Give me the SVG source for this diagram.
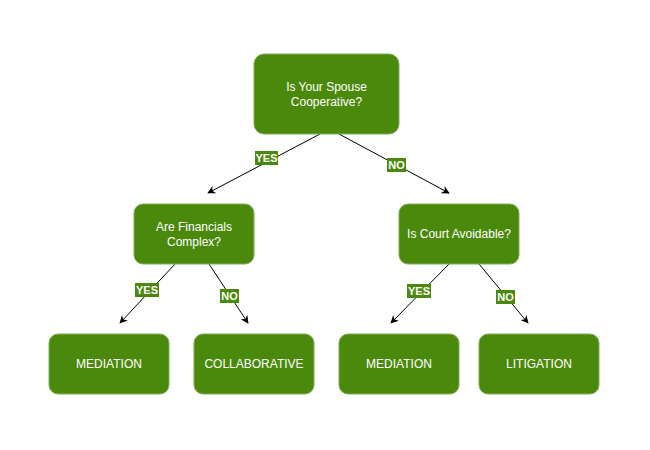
<svg xmlns="http://www.w3.org/2000/svg" width="650" height="450" viewBox="0 0 650 450">
  <style>
    .node rect { fill: #4a890c; stroke: #7fae55; stroke-width: 1; }
    .node text { fill: #ffffff; font-family: "Liberation Sans", Arial, sans-serif; font-size: 12px; text-anchor: middle; }
    .edge line { stroke: #000000; stroke-width: 1; }
    .lbl rect { fill: #4a890c; }
    .lbl text { fill: #ffffff; font-family: "Liberation Sans", Arial, sans-serif; font-size: 11px; font-weight: bold; text-anchor: middle; }
  </style>
  <defs>
    <marker id="arrow" viewBox="0 0 10 10" refX="9" refY="5" markerWidth="8" markerHeight="8" markerUnits="userSpaceOnUse" orient="auto">
      <path d="M0,0 L10,5 L0,10 L3,5 Z" fill="#000000"/>
    </marker>
  </defs>
  <rect width="650" height="450" fill="#ffffff"/>

  <!-- connectors -->
  <g id="connectors" class="edge">
    <line x1="320" y1="134" x2="208" y2="193" marker-end="url(#arrow)"/>
    <line x1="339" y1="134" x2="449" y2="193" marker-end="url(#arrow)"/>
    <line x1="175" y1="264" x2="120" y2="323" marker-end="url(#arrow)"/>
    <line x1="209" y1="264" x2="248" y2="323" marker-end="url(#arrow)"/>
    <line x1="449" y1="264" x2="391" y2="323" marker-end="url(#arrow)"/>
    <line x1="479" y1="264" x2="528" y2="323" marker-end="url(#arrow)"/>
  </g>

  <!-- connector labels -->
  <g id="labels" class="lbl">
    <g><rect x="255" y="151" width="23" height="14"/><text x="266.5" y="162">YES</text></g>
    <g><rect x="387" y="158" width="19" height="14"/><text x="396.5" y="169">NO</text></g>
    <g><rect x="135" y="283" width="24" height="14"/><text x="147" y="294">YES</text></g>
    <g><rect x="220" y="289" width="19" height="14"/><text x="229.5" y="300">NO</text></g>
    <g><rect x="407" y="284" width="24" height="14"/><text x="419" y="295">YES</text></g>
    <g><rect x="496" y="290" width="19" height="14"/><text x="505.5" y="301">NO</text></g>
  </g>

  <g id="spouse-cooperative" class="node">
    <rect x="254" y="54" width="145" height="80" rx="10"/>
    <text x="326.5" y="91">Is Your Spouse</text>
    <text x="326.5" y="106">Cooperative?</text>
  </g>

  <g id="financials-complex" class="node">
    <rect x="134" y="204" width="120" height="60" rx="9"/>
    <text x="194" y="231">Are Financials</text>
    <text x="194" y="246">Complex?</text>
  </g>

  <g id="court-avoidable" class="node">
    <rect x="399" y="204" width="120" height="60" rx="9"/>
    <text x="459" y="238">Is Court Avoidable?</text>
  </g>

  <g id="mediation-1" class="node">
    <rect x="49" y="334" width="120" height="60" rx="9"/>
    <text x="109" y="368">MEDIATION</text>
  </g>

  <g id="collaborative" class="node">
    <rect x="194" y="334" width="120" height="60" rx="9"/>
    <text x="254" y="368">COLLABORATIVE</text>
  </g>

  <g id="mediation-2" class="node">
    <rect x="339" y="334" width="120" height="60" rx="9"/>
    <text x="399" y="368">MEDIATION</text>
  </g>

  <g id="litigation" class="node">
    <rect x="479" y="334" width="120" height="60" rx="9"/>
    <text x="539" y="368">LITIGATION</text>
  </g>
</svg>
